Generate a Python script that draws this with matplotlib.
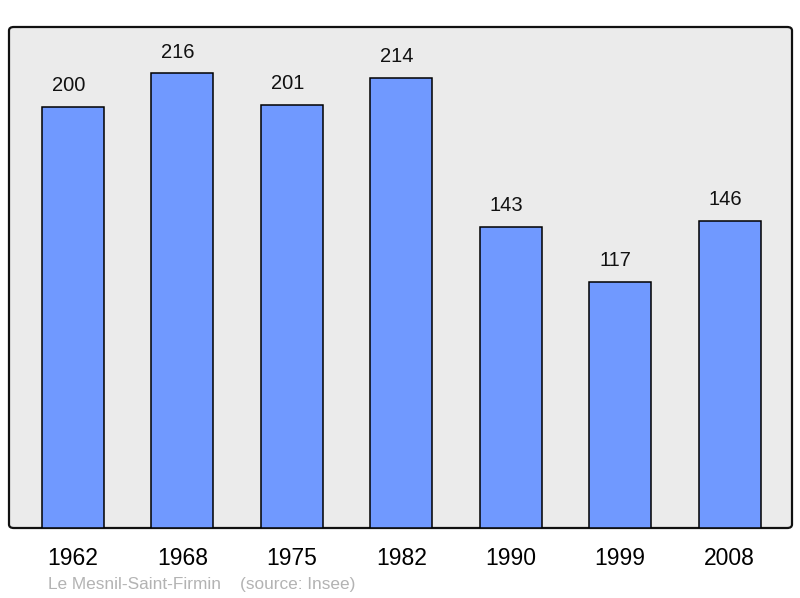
import matplotlib.pyplot as plt
from matplotlib.patches import FancyBboxPatch

plt.rcParams['font.family'] = ['Liberation Sans', 'DejaVu Sans']

years = ['1962', '1968', '1975', '1982', '1990', '1999', '2008']
population = [200, 216, 201, 214, 143, 117, 146]

W, H = 800, 598
fig = plt.figure(figsize=(8, 5.98), dpi=100)

# axes box in pixels: x 9..792, y 27..528
left, right, top, bottom = 9, 792, 27, 528
ax = fig.add_axes([left / W, 1 - bottom / H, (right - left) / W, (bottom - top) / H])
ax.set_facecolor('none')
ax.set_zorder(2)
for s in ax.spines.values():
    s.set_visible(False)

frame = FancyBboxPatch((left / W, 1 - bottom / H), (right - left) / W, (bottom - top) / H,
                       boxstyle='round,pad=0,rounding_size=0.006',
                       transform=fig.transFigure, facecolor='#ebebeb',
                       edgecolor='#111111', linewidth=1.6, zorder=0)
fig.patches.append(frame)

x = range(len(years))
ax.bar(x, population, width=0.567, color='#7099ff', edgecolor='black', linewidth=1.1, zorder=2)
for xi, v in zip(x, population):
    ax.text(xi - 0.04, v + 5.5, str(v), ha='center', va='bottom', fontsize=14.5, color='#111111')

ax.set_xlim(-0.585, 6.57)
ax.set_ylim(0, 238)
ax.set_yticks([])
ax.set_xticks(list(x))
ax.set_xticklabels(years, fontsize=16.5)
ax.tick_params(axis='x', length=0, pad=14)

fig.text(48 / W, 1 - 584 / H, 'Le Mesnil-Saint-Firmin    (source: Insee)',
         fontsize=12.4, color='#b3b3b3', ha='left', va='center')

fig.savefig('out.png', dpi=100)
